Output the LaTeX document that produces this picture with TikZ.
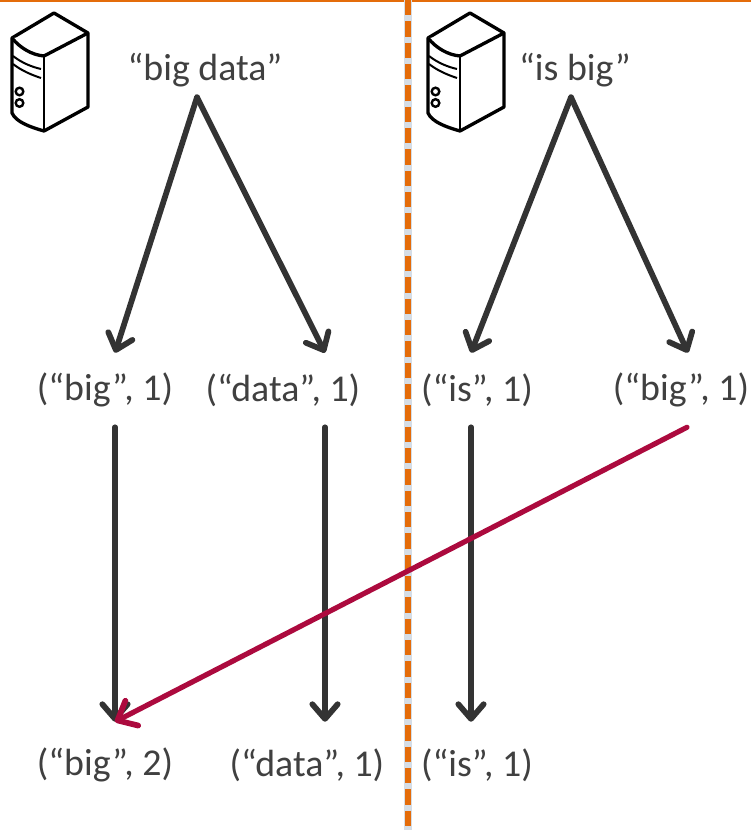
\documentclass[tikz,border=0pt]{standalone}
\usepackage{fontspec}
\setmainfont{Carlito}
\usetikzlibrary{arrows.meta}
\definecolor{txt}{HTML}{404040}
\definecolor{arr}{HTML}{333333}
\definecolor{redarr}{HTML}{AC0A3E}
\definecolor{org}{HTML}{E46C0A}
\definecolor{dshadow}{HTML}{D5DDE6}
\tikzset{
  x=0.75pt,y=-0.75pt,
  label/.style={font=\fontsize{28.4}{32}\selectfont,text=txt,inner sep=0pt,anchor=center},
  toplabel/.style={label,minimum height=40.5pt},
  midlabel/.style={label,minimum height=55.5pt},
  botlabel/.style={label,minimum height=64.5pt},
  flow/.style={draw=arr,line width=4.3pt,line cap=round,-{Straight Barb[round,length=11pt,width=19pt,line width=4.3pt]}},
  shuffle/.style={draw=redarr,line width=3.9pt,line cap=round,-{Straight Barb[round,length=12pt,width=21pt,line width=4.3pt]}},
  divider/.style={draw=org,line width=4pt,dash pattern=on 11.5pt off 4.5pt},
  dividershadow/.style={draw=dshadow,line width=5.5pt},
  srvbold/.style={draw=black,line width=2.5pt,line join=round,fill=white},
  srvthin/.style={draw=black,line width=1.5pt},
  pics/server/.style={code={
    \draw[srvbold] (54,13)--(88,33)--(88,107)--(44,131)
      .. controls (30,127) and (16,122) .. (12,113)--(12,38)--cycle;
    \draw[srvbold] (12,38) .. controls (20,48) and (32,55) .. (44,56)--(88,33);
    \draw[srvthin] (44,56)--(44,131);
    \draw[srvthin] (13,56) .. controls (22,63) and (32,67) .. (41,69);
    \draw[srvthin] (13,64) .. controls (22,71) and (32,75) .. (41,78);
    \draw[black,line width=1.8pt] (19.5,91.5) circle (3.8) (19.5,103) circle (3.8);
  }}
}
\begin{document}
\begin{tikzpicture}
\useasboundingbox (0,0) rectangle (751,830);
\fill[white] (0,0) rectangle (751,830);
\fill[org] (0,0) rectangle (751,2.5);
\coordinate (dtop) at (408,0);
\coordinate (dbot) at (408,830);
\draw[dividershadow] (dtop) -- (dbot);
\draw[divider] (dtop) -- (dbot);
\pic at (0,0) {server};
\pic at (416,0) {server};
\node[toplabel] (bd) at (205,70) {“big data”};
\node[toplabel] (ib) at (575,70) {“is big”};
\node[midlabel] (m1) at (105,390) {(“big”, 1)};
\node[midlabel] (m2) at (283,390) {(“data”, 1)};
\node[midlabel] (m3) at (477,390) {(“is”, 1)};
\node[midlabel] (m4) at (681,390) {(“big”, 1)};
\node[botlabel] (b1) at (105,765) {(“big”, 2)};
\node[botlabel] (b2) at (307,765) {(“data”, 1)};
\node[botlabel] (b3) at (477,765) {(“is”, 1)};
\draw[flow] ([shift={(-8,0)}]bd.south) -- ([shift={(10,0)}]m1.north);
\draw[flow] ([shift={(-8,0)}]bd.south) -- ([shift={(42,0)}]m2.north);
\draw[flow] ([shift={(-4,0)}]ib.south) -- ([shift={(-6,0)}]m3.north);
\draw[flow] ([shift={(-4,0)}]ib.south) -- ([shift={(7,0)}]m4.north);
\draw[flow] ([shift={(10,0)}]m1.south) -- ([shift={(10,0)}]b1.north);
\draw[flow] ([shift={(42,0)}]m2.south) -- ([shift={(18,0)}]b2.north);
\draw[flow] ([shift={(-6,0)}]m3.south) -- ([shift={(-6,0)}]b3.north);
\draw[shuffle] ([shift={(6,0)}]m4.south) -- ([shift={(10,0)}]b1.north);
\end{tikzpicture}
\end{document}
